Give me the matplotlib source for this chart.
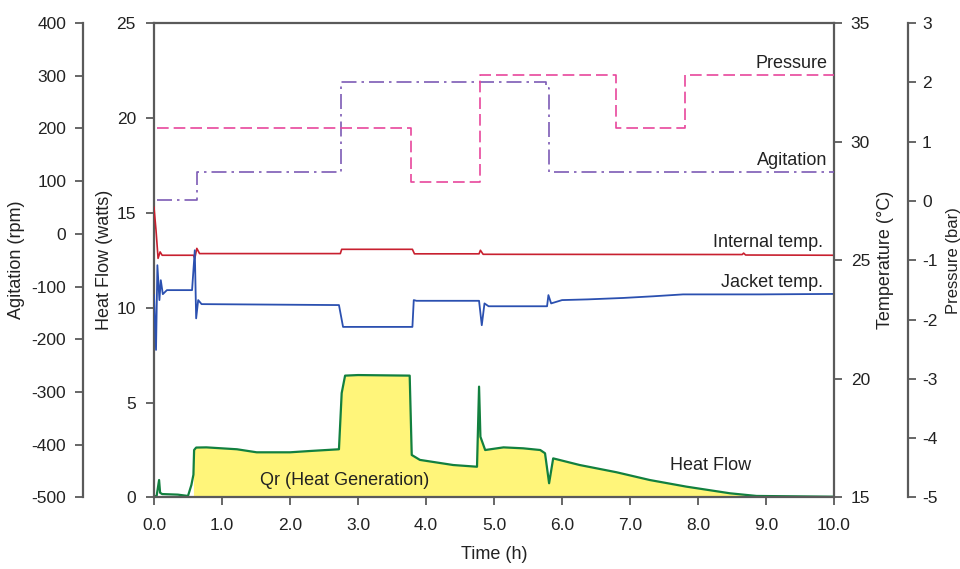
import matplotlib
matplotlib.use("Agg")
import matplotlib.pyplot as plt

plt.rcParams['font.family'] = ['Liberation Sans', 'DejaVu Sans']
plt.rcParams['axes.unicode_minus'] = False

# Pressure (bar), step profile
p_time = [0.05, 3.78, 3.78, 4.79, 4.79, 6.80, 6.80, 7.81, 7.81, 10.0]
p_bar = [1.23, 1.23, 0.32, 0.32, 2.12, 2.12, 1.23, 1.23, 2.12, 2.12]

# Agitation (rpm), step profile
a_time = [0.05, 0.63, 0.63, 2.75, 2.75, 5.77, 5.77, 5.81, 5.81, 10.0]
a_rpm = [65, 65, 117, 117, 289, 289, 276, 276, 117, 117]

# Internal temperature (degC)
ti_time = [0.0, 0.03, 0.06, 0.09, 0.12, 0.58, 0.60, 0.63, 0.67, 2.74, 2.76,
           3.80, 3.83, 4.78, 4.80, 4.84, 8.65, 8.67, 8.70, 10.0]
ti_temp = [27.23, 26.26, 25.08, 25.35, 25.21, 25.21, 25.08, 25.50, 25.28, 25.28, 25.46,
           25.46, 25.27, 25.27, 25.42, 25.25, 25.24, 25.30, 25.22, 25.21]

# Jacket temperature (degC)
tj_time = [0.0, 0.03, 0.05, 0.08, 0.10, 0.13, 0.19, 0.56, 0.60, 0.62, 0.65, 0.70,
           2.72, 2.78, 3.80, 3.82, 3.86, 4.78, 4.82, 4.86, 4.92, 5.53, 5.78, 5.80,
           5.84, 6.00, 6.38, 6.90, 7.34, 7.78, 8.90, 10.0]
tj_temp = [23.53, 21.22, 24.79, 23.32, 24.16, 23.57, 23.74, 23.74, 25.42, 22.55, 23.32, 23.15,
           23.11, 22.19, 22.19, 23.32, 23.29, 23.29, 22.26, 23.18, 23.06, 23.06, 23.06, 23.53,
           23.18, 23.32, 23.35, 23.41, 23.48, 23.56, 23.56, 23.58]

# Heat flow (watts)
hf_time = [0.0, 0.04, 0.075, 0.09, 0.12, 0.35, 0.50, 0.55, 0.58, 0.59, 0.62, 0.77,
           1.22, 1.51, 2.0, 2.3, 2.72, 2.76, 2.81, 3.0, 3.76, 3.79, 3.91, 4.40,
           4.75, 4.78, 4.80, 4.87, 5.14, 5.43, 5.68, 5.75, 5.81, 5.87, 6.26, 6.80,
           7.29, 7.83, 8.47, 8.86, 10.0]
hf_watts = [0.02, 0.10, 0.92, 0.25, 0.18, 0.15, 0.08, 0.66, 1.20, 2.50, 2.63, 2.64,
            2.54, 2.38, 2.38, 2.45, 2.54, 5.50, 6.42, 6.45, 6.42, 2.24, 1.98, 1.71,
            1.62, 5.84, 3.20, 2.50, 2.64, 2.59, 2.50, 2.33, 0.75, 2.06, 1.71, 1.33,
            0.92, 0.57, 0.22, 0.08, 0.04]

x_ticks = [0, 1, 2, 3, 4, 5, 6, 7, 8, 9, 10]
hf_ticks = [0, 5, 10, 15, 20, 25]
temp_ticks = [15, 20, 25, 30, 35]
rpm_ticks = [-500, -400, -300, -200, -100, 0, 100, 200, 300, 400]
bar_ticks = [-5, -4, -3, -2, -1, 0, 1, 2, 3]

spine_col = "#5a5a5a"
txt_col = "#222222"
fs = 12.5

fig = plt.figure(figsize=(9.6, 5.69), dpi=100)
ax = fig.add_axes([0.1604, 0.1257, 0.7084, 0.8339])
ax_t = ax.twinx()
ax_a = ax.twinx()
ax_p = ax.twinx()

# heat flow (main axis)
ax.fill_between(hf_time, 0, hf_watts, where=[t >= 0.58 for t in hf_time],
                color="#FFF57A", linewidth=0)
ax.plot(hf_time, hf_watts, color="#12803F", linewidth=1.6)
ax.set_xlim(0, 10)
ax.set_ylim(0, 25)
ax.set_xticks(x_ticks)
ax.set_xticklabels(["%.1f" % x for x in x_ticks])
ax.set_yticks(hf_ticks)
ax.set_xlabel("Time (h)", fontsize=13, color=txt_col)
ax.xaxis.set_label_coords(0.5, -0.102)
ax.set_ylabel("Heat Flow (watts)", fontsize=13, color=txt_col)
ax.yaxis.set_label_coords(-0.060, 0.5)
ax.tick_params(axis='x', direction='out', length=6, width=1.3, color=spine_col,
               labelsize=fs, labelcolor=txt_col, pad=9)
ax.tick_params(axis='y', direction='out', length=6, width=1.3, color=spine_col,
               labelsize=fs, labelcolor=txt_col, pad=7)
ax.spines['right'].set_visible(False)
for s in ['left', 'bottom', 'top']:
    ax.spines[s].set_color(spine_col)
    ax.spines[s].set_linewidth(1.6)

# temperature axis
ax_t.plot(ti_time, ti_temp, color="#C8202F", linewidth=1.2)
ax_t.plot(tj_time, tj_temp, color="#2B50B0", linewidth=1.3)
ax_t.set_ylim(15, 35)
ax_t.set_yticks(temp_ticks)
ax_t.set_ylabel("Temperature (°C)", fontsize=13, color=txt_col)
ax_t.yaxis.set_label_coords(1.063, 0.5)

# agitation axis (far left)
ax_a.plot(a_time, a_rpm, color="#7D5BB5", linewidth=1.2, dashes=(9, 3, 1.5, 3))
ax_a.set_ylim(-500, 400)
ax_a.set_yticks(rpm_ticks)
ax_a.spines['left'].set_position(('axes', -0.1044))
ax_a.spines['right'].set_visible(False)
ax_a.yaxis.set_ticks_position('left')
ax_a.yaxis.set_label_position('left')
ax_a.set_ylabel("Agitation (rpm)", fontsize=13, color=txt_col)
ax_a.yaxis.set_label_coords(-0.19, 0.5)

# pressure axis (far right)
ax_p.plot(p_time, p_bar, color="#E8479C", linewidth=1.2, dashes=(7, 3))
ax_p.set_ylim(-5, 3)
ax_p.set_yticks(bar_ticks)
ax_p.spines['right'].set_position(('axes', 1.109))
ax_p.set_ylabel("Pressure (bar)", fontsize=12, color=txt_col)
ax_p.yaxis.set_label_coords(1.165, 0.5)

for tw in [ax_t, ax_a, ax_p]:
    tw.set_xlim(0, 10)
    tw.spines['top'].set_visible(False)
    tw.spines['bottom'].set_visible(False)
    tw.tick_params(axis='y', direction='out', length=6, width=1.3, color=spine_col,
                   labelsize=fs, labelcolor=txt_col, pad=6)
    for s in tw.spines.values():
        s.set_color(spine_col)
        s.set_linewidth(1.6)
ax_a.spines['left'].set_visible(True)
ax_t.spines['left'].set_visible(False)
ax_p.spines['left'].set_visible(False)
ax_p.tick_params(axis='y', pad=4)

# series labels
ax.text(9.9, 22.84, "Pressure", ha='right', va='center', fontsize=13, color=txt_col)
ax.text(9.9, 17.78, "Agitation", ha='right', va='center', fontsize=13, color=txt_col)
ax.text(9.84, 13.46, "Internal temp.", ha='right', va='center', fontsize=13, color=txt_col)
ax.text(9.84, 11.35, "Jacket temp.", ha='right', va='center', fontsize=13, color=txt_col)
ax.text(7.59, 1.66, "Heat Flow", ha='left', va='center', fontsize=13, color=txt_col)
ax.text(1.56, 0.92, "Qr (Heat Generation)", ha='left', va='center', fontsize=13, color=txt_col)

fig.savefig("out.png", dpi=100)
